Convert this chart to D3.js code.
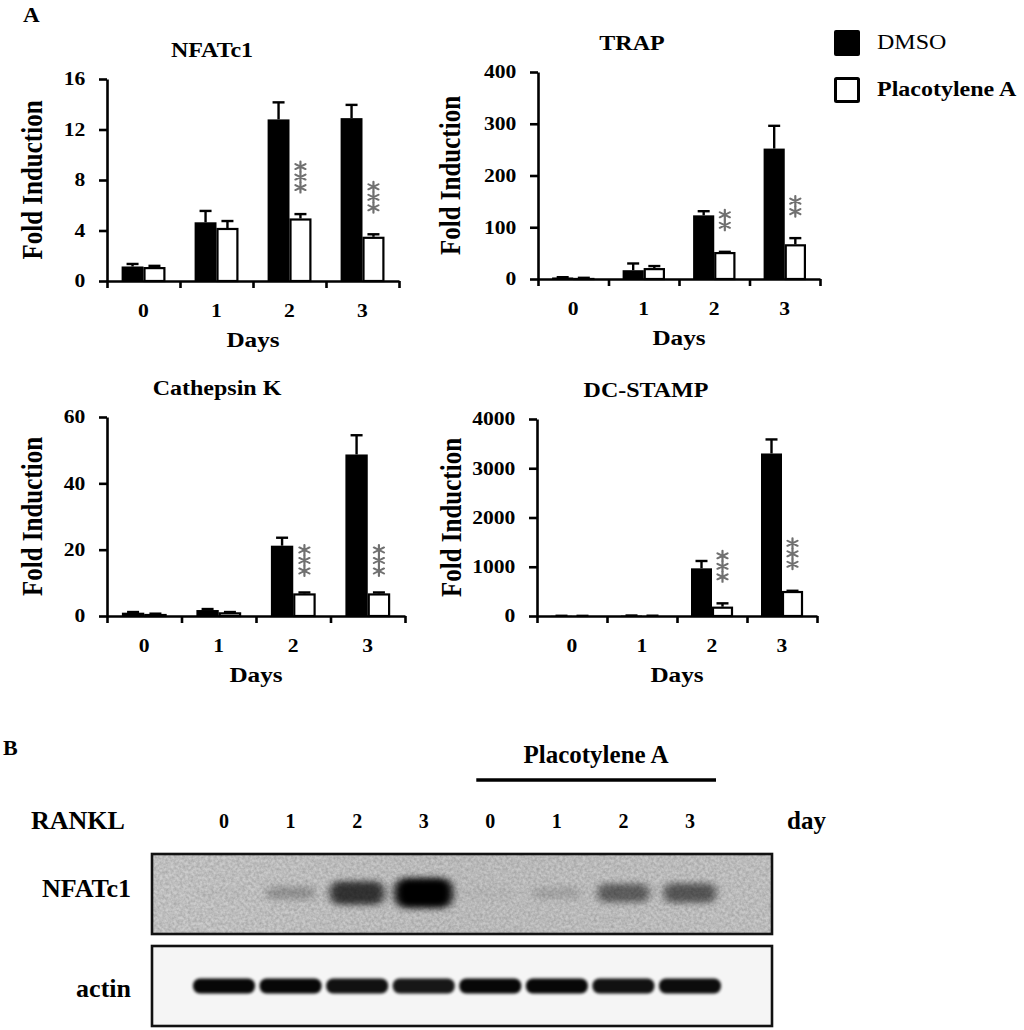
<!DOCTYPE html>
<html><head><meta charset="utf-8">
<script src="https://cdn.jsdelivr.net/npm/d3@7"></script>
<style>
body{margin:0;background:#fff}
svg{display:block}
svg text{font-family:"Liberation Serif","Times New Roman",Times,serif !important}
</style>
</head><body>
<svg id="fig" width="1024" height="1030"></svg>
<script>
// ---------------- DATA ----------------
const days = ["0","1","2","3"];
const seriesNames = ["DMSO","Placotylene A"];

const nfatcDMSO    = [1.15, 4.65, 12.8, 12.9];
const nfatcDMSOErr = [0.2, 0.9, 1.35, 1.05];
const nfatcPla     = [1.1, 4.2, 4.95, 3.5];
const nfatcPlaErr  = [0.1, 0.55, 0.35, 0.2];
const nfatcTicks   = [0, 4, 8, 12, 16];
const nfatcStars   = [0, 0, 3, 3];

const trapDMSO    = [3, 17, 123, 252];
const trapDMSOErr = [0.5, 13, 8, 44];
const trapPla     = [2, 21, 52, 67];
const trapPlaErr  = [0.3, 4, 0.5, 12];
const trapTicks   = [0, 100, 200, 300, 400];
const trapStars   = [0, 0, 2, 2];

const ctskDMSO    = [1.0, 1.8, 21.2, 48.7];
const ctskDMSOErr = [0.2, 0.3, 2.4, 5.8];
const ctskPla     = [0.6, 1.1, 6.8, 6.8];
const ctskPlaErr  = [0.1, 0.1, 0.3, 0.3];
const ctskTicks   = [0, 20, 40, 60];
const ctskStars   = [0, 0, 3, 3];

const dcDMSO    = [3, 8, 968, 3300];
const dcDMSOErr = [1, 2, 149, 285];
const dcPla     = [2, 5, 189, 507];
const dcPlaErr  = [1, 1, 68, 5];
const dcTicks   = [0, 1000, 2000, 3000, 4000];
const dcStars   = [0, 0, 3, 3];

const blotLanes  = ["0","1","2","3","0","1","2","3"];
const nfatcBand  = [0.02, 0.22, 0.7, 1.0, 0.03, 0.13, 0.48, 0.52];
const actinBand  = [0.97, 0.97, 0.93, 0.9, 0.97, 0.97, 0.93, 0.95];

// ---------------- LAYOUT ----------------
const SX = 1.2;               // horizontal stretch of panel A text
const svg = d3.select("#fig");
const FONT = '"Liberation Serif","Times New Roman",Times,serif';

const defs = svg.append("defs");
defs.append("filter").attr("id","blurN").attr("x","-50%").attr("y","-80%").attr("width","200%").attr("height","260%")
  .append("feGaussianBlur").attr("stdDeviation","4 3");
defs.append("filter").attr("id","blurA").attr("x","-30%").attr("y","-80%").attr("width","160%").attr("height","260%")
  .append("feGaussianBlur").attr("stdDeviation","1.6 1.4");
const nf = defs.append("filter").attr("id","noise").attr("x","0").attr("y","0").attr("width","100%").attr("height","100%");
nf.append("feTurbulence").attr("type","fractalNoise").attr("baseFrequency","0.35").attr("numOctaves","2").attr("seed","7");
nf.append("feColorMatrix").attr("type","matrix").attr("values","0 0 0 0 0  0 0 0 0 0  0 0 0 0 0  0.3 0 0 0 -0.08");
const lg2 = defs.append("linearGradient").attr("id","bgN").attr("x1","0").attr("x2","1").attr("y1","0").attr("y2","0");
lg2.append("stop").attr("offset","0").attr("stop-color","#cdcdcd");
lg2.append("stop").attr("offset","0.5").attr("stop-color","#c6c6c6");
lg2.append("stop").attr("offset","1").attr("stop-color","#c9c9c9");

function label(g, x, y, s, o = {}) {
  return g.append("text")
    .attr("transform", `translate(${x},${y}) scale(${o.sx ?? SX},1)` + (o.rot ? ` rotate(${o.rot})` : ""))
    .attr("text-anchor", o.anchor || "start")
    .attr("font-family", FONT)
    .attr("font-size", o.size || 18)
    .attr("font-weight", o.weight || "bold")
    .attr("fill", o.fill || "#000")
    .text(s);
}

const panels = [
  {title:"NFATc1", dmso:nfatcDMSO, dmsoErr:nfatcDMSOErr, pla:nfatcPla, plaErr:nfatcPlaErr, ticks:nfatcTicks, stars:nfatcStars,
   x0:107, x1:399, yTop:79, yBot:281, ylabX:42, titleX:212, starGap:21},
  {title:"TRAP", dmso:trapDMSO, dmsoErr:trapDMSOErr, pla:trapPla, plaErr:trapPlaErr, ticks:trapTicks, stars:trapStars,
   x0:538, x1:820, yTop:72, yBot:279, ylabX:460, titleX:632, starGap:21},
  {title:"Cathepsin K", dmso:ctskDMSO, dmsoErr:ctskDMSOErr, pla:ctskPla, plaErr:ctskPlaErr, ticks:ctskTicks, stars:ctskStars,
   x0:107, x1:405, yTop:417, yBot:616, ylabX:42, titleX:217, starGap:16},
  {title:"DC-STAMP", dmso:dcDMSO, dmsoErr:dcDMSOErr, pla:dcPla, plaErr:dcPlaErr, ticks:dcTicks, stars:dcStars,
   x0:537, x1:817, yTop:419, yBot:616, ylabX:461, titleX:646, starGap:21}
];

// Panel label A
label(svg, 23, 22, "A", {size:21, sx:1.1});

panels.forEach(p => {
  const g = svg.append("g");
  const y = d3.scaleLinear().domain([0, d3.max(p.ticks)]).range([p.yBot, p.yTop]);
  const xb = d3.scaleBand().domain(days).range([p.x0, p.x1]);
  const xEdge = d3.scaleLinear().domain([0, days.length]).range([p.x0, p.x1]);
  const bw = xb.bandwidth() * 0.3;

  const cx = d => xb(d) + xb.bandwidth() / 2;
  g.selectAll(".bd").data(days).join("rect")
    .attr("x", d => cx(d) - bw).attr("width", bw)
    .attr("y", (d,i) => y(p.dmso[i])).attr("height", (d,i) => p.yBot - y(p.dmso[i]))
    .attr("fill", "#000");
  g.selectAll(".bp").data(days).join("rect")
    .attr("x", d => cx(d) + 1).attr("width", bw - 2)
    .attr("y", (d,i) => y(p.pla[i]) + 1).attr("height", (d,i) => Math.max(0, p.yBot - y(p.pla[i]) - 1))
    .attr("fill", "#fff").attr("stroke", "#000").attr("stroke-width", 2.2);

  const err = (vals, errs, off) => {
    days.forEach((d,i) => {
      const xc = cx(d) + off;
      const yt = y(vals[i] + errs[i]);
      g.append("line").attr("x1", xc).attr("x2", xc).attr("y1", y(vals[i])).attr("y2", yt)
        .attr("stroke", "#000").attr("stroke-width", 2.4);
      g.append("line").attr("x1", xc - 6).attr("x2", xc + 6).attr("y1", yt).attr("y2", yt)
        .attr("stroke", "#000").attr("stroke-width", 2.4);
    });
  };
  err(p.dmso, p.dmsoErr, -bw / 2);
  err(p.pla, p.plaErr, bw / 2);

  const star = d3.symbol().type(d3.symbolAsterisk).size(72);
  days.forEach((d,i) => {
    const n = p.stars[i];
    if (!n) return;
    const xc = cx(d) + bw / 2;
    const bottom = y(p.pla[i] + p.plaErr[i]) - p.starGap;
    for (let k = 0; k < n; k++) {
      g.append("path").attr("d", star())
        .attr("transform", `translate(${xc},${bottom - 5.5 - k * 10.5}) scale(1.15,1)`)
        .attr("fill", "none").attr("stroke", "#707070").attr("stroke-width", 1.9).attr("stroke-linecap", "round");
    }
  });

  const ay = g.append("g").attr("transform", `translate(${p.x0},0)`)
    .call(d3.axisLeft(y).tickValues(p.ticks).tickFormat(d3.format("d")).tickSize(8).tickSizeOuter(0).tickPadding(10));
  ay.attr("font-family", FONT).attr("font-size", 18).attr("font-weight", "bold");
  ay.select(".domain").attr("stroke-width", 2.6);
  ay.selectAll(".tick line").attr("stroke-width", 2.6);
  ay.selectAll(".tick text").attr("fill", "#000").attr("font-family", FONT).attr("transform", `scale(${SX},1)`);

  const ax = g.append("g").attr("transform", `translate(0,${p.yBot})`)
    .call(d3.axisBottom(xEdge).tickValues(d3.range(days.length + 1)).tickSize(7).tickSizeOuter(0).tickFormat(""));
  ax.select(".domain").attr("stroke-width", 2.6);
  ax.selectAll(".tick line").attr("stroke-width", 2.6);

  days.forEach(d => label(g, cx(d), p.yBot + 36, d, {anchor:"middle", size:18}));
  label(g, (p.x0 + p.x1) / 2, p.yBot + 66, "Days", {anchor:"middle", size:21});
  label(g, p.ylabX, (p.yTop + p.yBot) / 2, "Fold Induction", {anchor:"middle", size:25, rot:-90});
  label(g, p.titleX, p.yTop - 22, p.title, {anchor:"middle", size:20});
});

// legend
const lg = svg.append("g");
lg.append("rect").attr("x", 834).attr("y", 30).attr("width", 26).attr("height", 26).attr("rx", 2).attr("fill", "#000");
lg.append("rect").attr("x", 835.5).attr("y", 78.5).attr("width", 23).attr("height", 23).attr("rx", 1)
  .attr("fill", "#fff").attr("stroke", "#000").attr("stroke-width", 3);
label(lg, 877, 49, seriesNames[0], {size:20, weight:"normal"});
label(lg, 877, 96, seriesNames[1], {size:20});

// ---------------- PANEL B: western blot ----------------
const b = svg.append("g");
label(b, 3, 755, "B", {size:22, sx:1.0});
const lane = d3.scalePoint().domain(d3.range(blotLanes.length)).range([224, 690]);

label(b, 596, 763, "Placotylene A", {anchor:"middle", size:25, sx:1.0});
b.append("line").attr("x1", lane(4) - 14).attr("x2", lane(7) + 26).attr("y1", 780).attr("y2", 780)
  .attr("stroke", "#000").attr("stroke-width", 3.5);
label(b, 31, 829, "RANKL", {size:26, sx:1.0});
blotLanes.forEach((d,i) => label(b, lane(i), 828, d, {anchor:"middle", size:20, sx:1.0}));
label(b, 787, 829, "day", {size:25, sx:1.0});

const boxX = 152, boxW = 620;
b.append("rect").attr("x", boxX).attr("y", 854).attr("width", boxW).attr("height", 80).attr("fill", "url(#bgN)");
b.append("rect").attr("x", boxX).attr("y", 854).attr("width", boxW).attr("height", 80).attr("filter", "url(#noise)");
b.selectAll(".nb").data(nfatcBand).join("rect")
  .attr("x", (v,i) => lane(i) - (46 + 12 * v) / 2).attr("width", v => 46 + 12 * v)
  .attr("y", v => 893 - (8 + 22 * v) / 2).attr("height", v => 8 + 22 * v)
  .attr("rx", v => (8 + 22 * v) / 2.5)
  .attr("fill", "#000").attr("opacity", v => Math.min(1, v * 1.05)).attr("filter", "url(#blurN)");
b.append("rect").attr("x", boxX).attr("y", 854).attr("width", boxW).attr("height", 80)
  .attr("fill", "none").attr("stroke", "#111").attr("stroke-width", 2.6);
label(b, 131, 897, "NFATc1", {anchor:"end", size:26, sx:1.0});

b.append("rect").attr("x", boxX).attr("y", 946).attr("width", boxW).attr("height", 80).attr("fill", "#f5f5f5");
b.selectAll(".ab").data(actinBand).join("rect")
  .attr("x", (v,i) => lane(i) - 31).attr("width", 62)
  .attr("y", 986 - 7.5).attr("height", 15).attr("rx", 7)
  .attr("fill", "#000").attr("opacity", v => v).attr("filter", "url(#blurA)");
b.append("rect").attr("x", boxX).attr("y", 946).attr("width", boxW).attr("height", 80)
  .attr("fill", "none").attr("stroke", "#111").attr("stroke-width", 2.6);
label(b, 131, 997, "actin", {anchor:"end", size:26, sx:1.0});
</script>
</body></html>
